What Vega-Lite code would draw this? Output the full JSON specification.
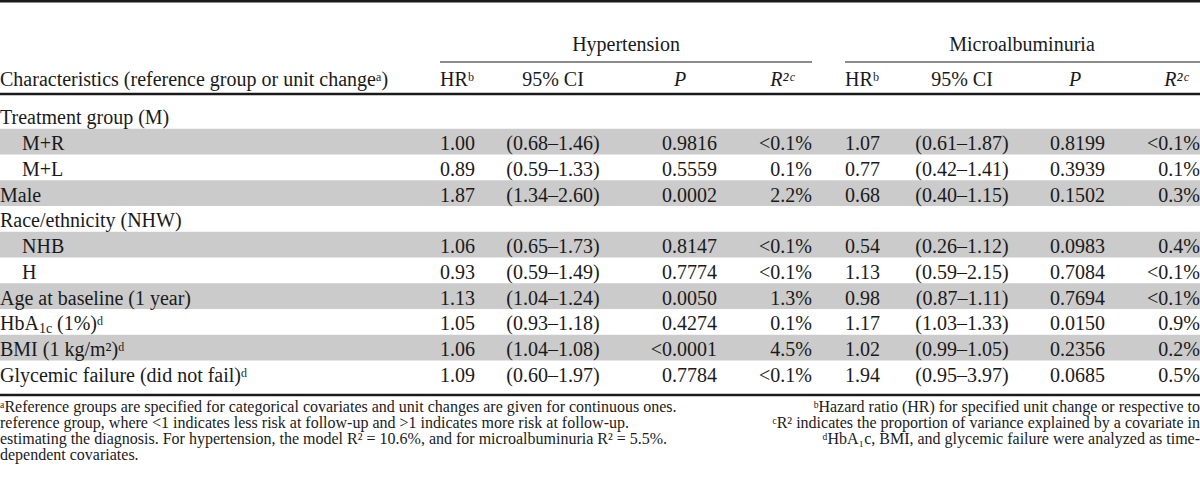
{
  "$schema": "https://vega.github.io/schema/vega-lite/v6.json",
  "width": 1200,
  "height": 487,
  "padding": 0,
  "autosize": {"type": "none"},
  "background": "white",
  "config": {
    "view": {"stroke": null},
    "text": {"font": "Liberation Serif", "fontSize": 20, "color": "#1a1a1a", "baseline": "middle"},
    "rule": {"color": "#1a1a1a"}
  },
  "datasets": {
    "cols": [
      {"key": "lab", "c": 0}, {"key": "sub", "c": 1},
      {"key": "hr1", "c": 3}, {"key": "ci1", "c": 4}, {"key": "p1", "c": 7}, {"key": "r1", "c": 9},
      {"key": "hr2", "c": 11}, {"key": "ci2", "c": 12}, {"key": "p2", "c": 15}, {"key": "r2", "c": 17}
    ]
  },
  "data": {"values": [
    {"r": 0, "lab": "Treatment group (M)"},
    {"r": 1, "sub": "M+R", "hr1": "1.00", "ci1": "(0.68–1.46)", "p1": "0.9816", "r1": "<0.1%", "hr2": "1.07", "ci2": "(0.61–1.87)", "p2": "0.8199", "r2": "<0.1%"},
    {"r": 2, "sub": "M+L", "hr1": "0.89", "ci1": "(0.59–1.33)", "p1": "0.5559", "r1": "0.1%", "hr2": "0.77", "ci2": "(0.42–1.41)", "p2": "0.3939", "r2": "0.1%"},
    {"r": 3, "lab": "Male", "hr1": "1.87", "ci1": "(1.34–2.60)", "p1": "0.0002", "r1": "2.2%", "hr2": "0.68", "ci2": "(0.40–1.15)", "p2": "0.1502", "r2": "0.3%"},
    {"r": 4, "lab": "Race/ethnicity (NHW)"},
    {"r": 5, "sub": "NHB", "hr1": "1.06", "ci1": "(0.65–1.73)", "p1": "0.8147", "r1": "<0.1%", "hr2": "0.54", "ci2": "(0.26–1.12)", "p2": "0.0983", "r2": "0.4%"},
    {"r": 6, "sub": "H", "hr1": "0.93", "ci1": "(0.59–1.49)", "p1": "0.7774", "r1": "<0.1%", "hr2": "1.13", "ci2": "(0.59–2.15)", "p2": "0.7084", "r2": "<0.1%"},
    {"r": 7, "lab": "Age at baseline (1 year)", "hr1": "1.13", "ci1": "(1.04–1.24)", "p1": "0.0050", "r1": "1.3%", "hr2": "0.98", "ci2": "(0.87–1.11)", "p2": "0.7694", "r2": "<0.1%"},
    {"r": 8, "lab": "HbA", "hr1": "1.05", "ci1": "(0.93–1.18)", "p1": "0.4274", "r1": "0.1%", "hr2": "1.17", "ci2": "(1.03–1.33)", "p2": "0.0150", "r2": "0.9%"},
    {"r": 9, "lab": "BMI (1 kg/m²)ᵈ", "hr1": "1.06", "ci1": "(1.04–1.08)", "p1": "<0.0001", "r1": "4.5%", "hr2": "1.02", "ci2": "(0.99–1.05)", "p2": "0.2356", "r2": "0.2%"},
    {"r": 10, "lab": "Glycemic failure (did not fail)ᵈ", "hr1": "1.09", "ci1": "(0.60–1.97)", "p1": "0.7784", "r1": "<0.1%", "hr2": "1.94", "ci2": "(0.95–3.97)", "p2": "0.0685", "r2": "0.5%"}
  ]},
  "layer": [
    {
      "transform": [{"filter": "datum.r % 2 == 1"}],
      "mark": {"type": "rule", "strokeWidth": 25.75, "color": "#cbcbcb", "yOffset": -2.5},
      "encoding": {
        "y": {"field": "r", "type": "quantitative", "axis": null, "scale": {"domain": [-4.602, 14.311], "range": [0, 487], "nice": false, "zero": false}}
      }
    },
    {
      "data": {"values": [{"r": -4.555}, {"r": -0.951}, {"r": 10.738}]},
      "mark": {"type": "rule", "strokeWidth": 2.6},
      "encoding": {
        "y": {"field": "r", "type": "quantitative"}
      }
    },
    {
      "data": {"values": [{"r": -2.194, "c": 2, "c2": 9}, {"r": -2.194, "c": 10, "c2": 17}]},
      "mark": {"type": "rule", "strokeWidth": 1.2},
      "encoding": {
        "x": {"field": "c", "type": "quantitative", "axis": null, "scale": {"domain": [0,1,2,3,4,5,6,7,8,9,10,11,12,13,14,15,16,17], "range": [0,22,440,475,553,626,680,717,782,812,845,880,962,1022,1075,1105,1176,1200], "nice": false, "zero": false}},
        "x2": {"field": "c2"},
        "y": {"field": "r", "type": "quantitative"}
      }
    },
    {
      "transform": [
        {"fold": ["lab", "sub", "hr1", "ci1", "p1", "r1", "hr2", "ci2", "p2", "r2"], "as": ["key", "t"]},
        {"filter": "isValid(datum.t)"},
        {"lookup": "key", "from": {"data": {"name": "cols"}, "key": "key", "fields": ["c"]}}
      ],
      "layer": [
        {
          "transform": [{"filter": {"field": "c", "oneOf": [0, 1]}}],
          "mark": {"type": "text", "align": "left"},
          "encoding": {
            "x": {"field": "c", "type": "quantitative"},
            "y": {"field": "r", "type": "quantitative"},
            "text": {"field": "t"}
          }
        },
        {
          "transform": [{"filter": {"field": "c", "oneOf": [3, 7, 9, 11, 15, 17]}}],
          "mark": {"type": "text", "align": "right"},
          "encoding": {
            "x": {"field": "c", "type": "quantitative"},
            "y": {"field": "r", "type": "quantitative"},
            "text": {"field": "t"}
          }
        },
        {
          "transform": [{"filter": {"field": "c", "oneOf": [4, 12]}}],
          "mark": {"type": "text", "align": "center"},
          "encoding": {
            "x": {"field": "c", "type": "quantitative"},
            "y": {"field": "r", "type": "quantitative"},
            "text": {"field": "t"}
          }
        }
      ]
    },
    {
      "data": {"values": [
        {"r": -2.854, "c": 5, "t": "Hypertension"},
        {"r": -2.854, "c": 13, "t": "Microalbuminuria"},
        {"r": -1.495, "c": 0, "t": "Characteristics (reference group or unit changeᵃ)"},
        {"r": -1.495, "c": 2, "t": "HRᵇ"},
        {"r": -1.495, "c": 4, "t": "95% CI"},
        {"r": -1.495, "c": 6, "t": "P"},
        {"r": -1.495, "c": 8, "t": "R²ᶜ"},
        {"r": -1.495, "c": 10, "t": "HRᵇ"},
        {"r": -1.495, "c": 12, "t": "95% CI"},
        {"r": -1.495, "c": 14, "t": "P"},
        {"r": -1.495, "c": 16, "t": "R²ᶜ"}
      ]},
      "layer": [
        {
          "transform": [{"filter": {"field": "c", "oneOf": [0, 2, 10]}}],
          "mark": {"type": "text", "align": "left"},
          "encoding": {
            "x": {"field": "c", "type": "quantitative"},
            "y": {"field": "r", "type": "quantitative"},
            "text": {"field": "t"}
          }
        },
        {
          "transform": [{"filter": {"field": "c", "oneOf": [4, 5, 12, 13]}}],
          "mark": {"type": "text", "align": "center"},
          "encoding": {
            "x": {"field": "c", "type": "quantitative"},
            "y": {"field": "r", "type": "quantitative"},
            "text": {"field": "t"}
          }
        },
        {
          "transform": [{"filter": {"field": "c", "oneOf": [6, 8, 14, 16]}}],
          "mark": {"type": "text", "align": "center", "fontStyle": "italic"},
          "encoding": {
            "x": {"field": "c", "type": "quantitative"},
            "y": {"field": "r", "type": "quantitative"},
            "text": {"field": "t"}
          }
        }
      ]
    },
    {
      "data": {"values": [
        {"r": 8, "c": 0, "t": "1c", "part": "subscript"},
        {"r": 8, "c": 0, "t": "(1%)ᵈ", "part": "after"}
      ]},
      "layer": [
        {
          "transform": [{"filter": "datum.part == 'subscript'"}],
          "mark": {"type": "text", "align": "left", "fontSize": 14, "dx": 39, "dy": 5},
          "encoding": {
            "x": {"field": "c", "type": "quantitative"},
            "y": {"field": "r", "type": "quantitative"},
            "text": {"field": "t"}
          }
        },
        {
          "transform": [{"filter": "datum.part == 'after'"}],
          "mark": {"type": "text", "align": "left", "dx": 57},
          "encoding": {
            "x": {"field": "c", "type": "quantitative"},
            "y": {"field": "r", "type": "quantitative"},
            "text": {"field": "t"}
          }
        }
      ]
    },
    {
      "data": {"values": [
        {"r": 11.204, "c": 0, "t": "ᵃReference groups are specified for categorical covariates and unit changes are given for continuous ones."},
        {"r": 11.204, "c": 17, "t": "ᵇHazard ratio (HR) for specified unit change or respective to"},
        {"r": 11.825, "c": 0, "t": "reference group, where <1 indicates less risk at follow-up and >1 indicates more risk at follow-up."},
        {"r": 11.825, "c": 17, "t": "ᶜR² indicates the proportion of variance explained by a covariate in"},
        {"r": 12.447, "c": 0, "t": "estimating the diagnosis. For hypertension, the model R² = 10.6%, and for microalbuminuria R² = 5.5%."},
        {"r": 12.447, "c": 17, "t": "ᵈHbA₁c, BMI, and glycemic failure were analyzed as time-"},
        {"r": 13.068, "c": 0, "t": "dependent covariates."}
      ]},
      "layer": [
        {
          "transform": [{"filter": {"field": "c", "equal": 0}}],
          "mark": {"type": "text", "align": "left", "fontSize": 16},
          "encoding": {
            "x": {"field": "c", "type": "quantitative"},
            "y": {"field": "r", "type": "quantitative"},
            "text": {"field": "t"}
          }
        },
        {
          "transform": [{"filter": {"field": "c", "equal": 17}}],
          "mark": {"type": "text", "align": "right", "fontSize": 16},
          "encoding": {
            "x": {"field": "c", "type": "quantitative"},
            "y": {"field": "r", "type": "quantitative"},
            "text": {"field": "t"}
          }
        }
      ]
    }
  ]
}
